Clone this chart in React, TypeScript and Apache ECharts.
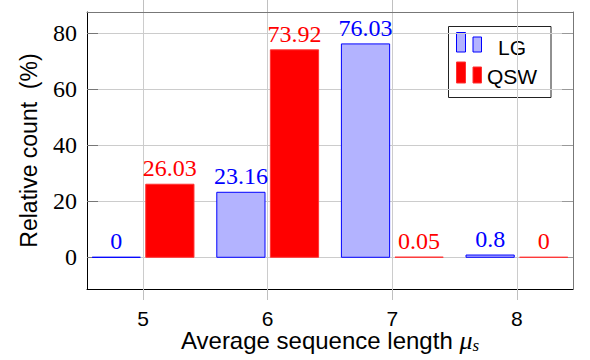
import React, { useEffect, useRef } from "react";
import * as echarts from "echarts";

const categories = [5, 6, 7, 8];
const lgValues = [0, 23.16, 76.03, 0.8];
const qswValues = [26.03, 73.92, 0.05, 0];
const yTicks = [0, 20, 40, 60, 80];

const SERIF = "'Liberation Serif', 'DejaVu Serif', serif";
const SANS = "'Liberation Sans', 'DejaVu Sans', sans-serif";

const LG_FILL = "#b3b3ff";
const LG_STROKE = "#0000ff";
const QSW_FILL = "#ff0000";
const QSW_STROKE = "#ff3333";

const BAR_W = 0.387;
const OFFSET = 0.215;

function makeRender(offset: number, fill: string, stroke: string, labelColor: string) {
  return (params: any, api: any) => {
    const x = api.value(0);
    const y = api.value(1);
    const p0 = api.coord([x + offset - BAR_W / 2, y]);
    const p1 = api.coord([x + offset + BAR_W / 2, 0]);
    const cx = (p0[0] + p1[0]) / 2;
    return {
      type: "group",
      children: [
        {
          type: "rect",
          shape: { x: p0[0], y: p0[1], width: p1[0] - p0[0], height: Math.max(p1[1] - p0[1], 0.01) },
          style: { fill, stroke, lineWidth: 1 },
        },
        {
          type: "text",
          style: {
            text: String(y),
            x: cx,
            y: p0[1] - 4,
            align: "center",
            verticalAlign: "bottom",
            fill: labelColor,
            font: `24px ${SERIF}`,
          },
        },
      ],
    };
  };
}

export default function App() {
  const ref = useRef<HTMLDivElement>(null);
  useEffect(() => {
    if (!ref.current) return;
    const chart = echarts.init(ref.current, null, { renderer: "svg" });
    const xMin = 4.55;
    const xMax = 8.45;
    const yMin = -11.3;
    const yMax = 87.4;
    const gridTickColor = "#c0c0c0";
    chart.setOption({
      animation: false,
      backgroundColor: "#ffffff",
      grid: { left: 87, top: 12, right: 17, bottom: 71, show: false, outerBoundsMode: "none", containLabel: false },
      xAxis: [
        {
          type: "value",
          min: xMin,
          max: xMax,
          position: "bottom",
          axisLine: { show: true, onZero: false, lineStyle: { color: "#000", width: 1 } },
          axisTick: { show: true, inside: false, length: 11, lineStyle: { color: gridTickColor }, customValues: categories },
          axisLabel: {
            show: true,
            customValues: categories,
            margin: 21,
            lineHeight: 16,
            color: "#000",
            fontFamily: SANS,
            fontSize: 21,
          },
          splitLine: { show: true, lineStyle: { color: "#cccccc", width: 1 } },
          name: "{a|Average sequence length }{m|μ}{s|s}",
          nameLocation: "middle",
          nameGap: 37,
          nameMoveOverlap: false,
          nameTextStyle: {
            rich: {
              a: { fontFamily: SANS, fontSize: 24, color: "#000", lineHeight: 28, verticalAlign: "middle" },
              m: { fontFamily: SERIF, fontStyle: "italic", fontSize: 26, color: "#000", lineHeight: 28, verticalAlign: "middle" },
              s: { fontFamily: SERIF, fontStyle: "italic", fontSize: 17, color: "#000", lineHeight: 28, verticalAlign: "bottom" },
            },
          },
        },
        {
          type: "value",
          min: xMin,
          max: xMax,
          position: "top",
          axisLine: { show: true, onZero: false, lineStyle: { color: "#777", width: 1 } },
          axisTick: { show: true, inside: false, length: 14, lineStyle: { color: gridTickColor }, customValues: categories },
          axisLabel: { show: false },
          splitLine: { show: false },
        },
      ],
      yAxis: [
        {
          type: "value",
          min: yMin,
          max: yMax,
          position: "left",
          axisLine: { show: true, onZero: false, lineStyle: { color: "#000", width: 1 } },
          axisTick: { show: true, inside: true, length: 11, lineStyle: { color: "#777" }, customValues: yTicks },
          axisLabel: {
            show: true,
            customValues: yTicks,
            margin: 10,
            color: "#000",
            fontFamily: SERIF,
            fontSize: 24,
          },
          splitLine: { show: true, lineStyle: { color: "#cccccc", width: 1 } },
          name: "Relative count  (%)",
          nameLocation: "middle",
          nameGap: 47,
          nameMoveOverlap: false,
          nameTextStyle: { fontFamily: SANS, fontSize: 23, color: "#000" },
        },
        {
          type: "value",
          min: yMin,
          max: yMax,
          position: "right",
          axisLine: { show: true, onZero: false, lineStyle: { color: "#777", width: 1 } },
          axisTick: { show: true, inside: true, length: 11, lineStyle: { color: "#999" }, customValues: yTicks },
          axisLabel: { show: false },
          splitLine: { show: false },
        },
      ],
      series: [
        {
          name: "LG",
          type: "custom",
          xAxisIndex: 0,
          yAxisIndex: 0,
          encode: { x: 0, y: 1 },
          data: categories.map((c, i) => [c, lgValues[i]]),
          renderItem: makeRender(-OFFSET, LG_FILL, LG_STROKE, "#0000ff"),
          z: 3,
        },
        {
          name: "QSW",
          type: "custom",
          xAxisIndex: 0,
          yAxisIndex: 0,
          encode: { x: 0, y: 1 },
          data: categories.map((c, i) => [c, qswValues[i]]),
          renderItem: makeRender(OFFSET, QSW_FILL, QSW_STROKE, "#ff0000"),
          z: 3,
        },
      ],
      graphic: [
        {
          type: "group",
          z: 10,
          children: [
            { type: "rect", shape: { x: 448.5, y: 26.5, width: 102.5, height: 71 }, style: { fill: "#fff", stroke: "#222", lineWidth: 1 } },
            { type: "rect", shape: { x: 456.5, y: 32.5, width: 9, height: 19.5 }, style: { fill: LG_FILL, stroke: LG_STROKE, lineWidth: 1 } },
            { type: "rect", shape: { x: 473, y: 37, width: 8.5, height: 15 }, style: { fill: LG_FILL, stroke: LG_STROKE, lineWidth: 1 } },
            { type: "rect", shape: { x: 456.5, y: 62, width: 9, height: 21 }, style: { fill: QSW_FILL, stroke: QSW_STROKE, lineWidth: 1 } },
            { type: "rect", shape: { x: 473, y: 67, width: 8.5, height: 16 }, style: { fill: QSW_FILL, stroke: QSW_STROKE, lineWidth: 1 } },
            { type: "text", style: { text: "LG", x: 512, y: 47, align: "center", verticalAlign: "middle", fill: "#000", font: `21px ${SANS}` } },
            { type: "text", style: { text: "QSW", x: 512, y: 76, align: "center", verticalAlign: "middle", fill: "#000", font: `21px ${SANS}` } },
          ],
        },
      ],
    });
    return () => chart.dispose();
  }, []);
  return <div ref={ref} style={{ position: "fixed", left: 0, top: 0, width: 590, height: 360 }} />;
}
